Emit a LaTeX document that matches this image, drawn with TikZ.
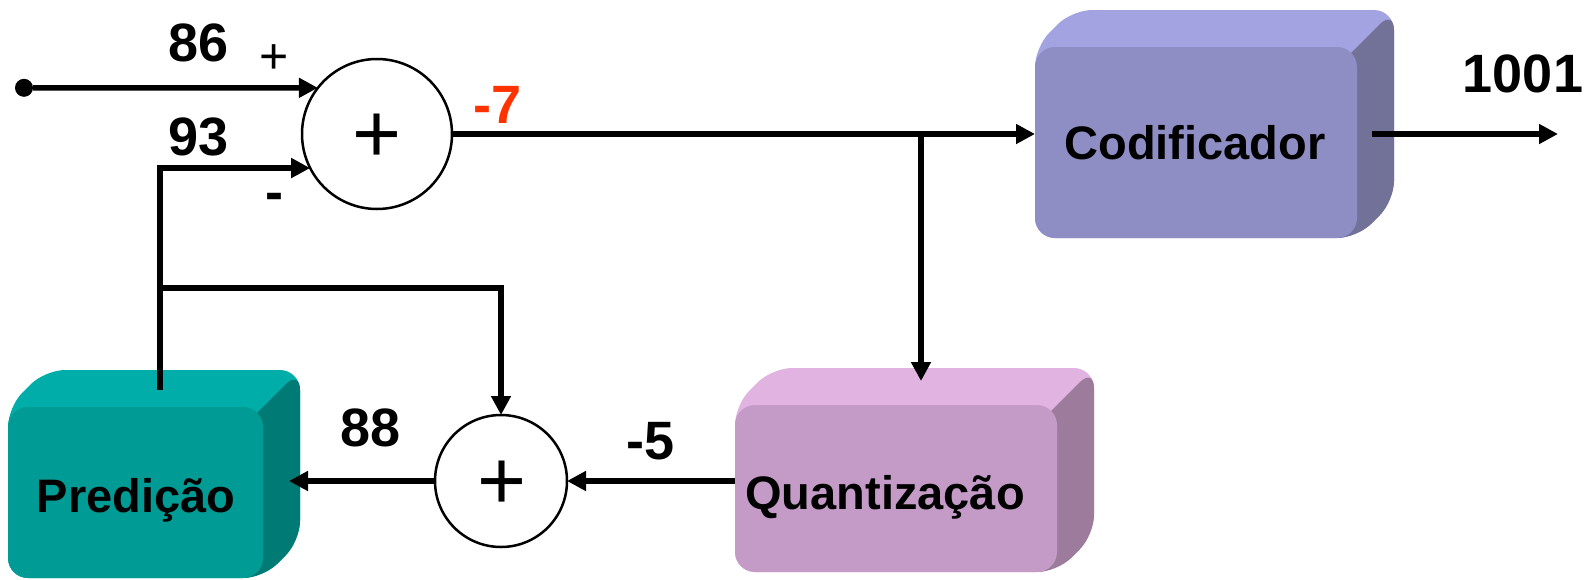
\documentclass[tikz,border=0pt]{standalone}
\usepackage{fontspec}
\setmainfont{Liberation Sans}
\usetikzlibrary{arrows.meta,calc}

\definecolor{codTop}{HTML}{A4A3E2}
\definecolor{codFront}{HTML}{8E8EC4}
\definecolor{codSide}{HTML}{727299}
\definecolor{preTop}{HTML}{00ADA8}
\definecolor{preFront}{HTML}{009B95}
\definecolor{preSide}{HTML}{007A74}
\definecolor{quaTop}{HTML}{E1B3E1}
\definecolor{quaFront}{HTML}{C49BC6}
\definecolor{quaSide}{HTML}{9C7B9C}
\definecolor{valred}{HTML}{FF3300}

% solid block: back hull and right side behind a rounded front face
% #1,#2 = front top-left, #3,#4 = front bottom-right, #5 top colour, #6 side colour
\newcommand\solidbox[6]{%
  \fill[#5, rounded corners=20pt] (#1,#4) -- (#1,#2) -- ({#1+37},{#2-37})
       -- ({#3+37},{#2-37}) -- ({#3+37},{#4-37}) -- (#3,#4) -- cycle;
  \fill[#6, rounded corners=20pt] ({#3-40},{#2+40}) -- ({#3+37},{#2-37})
       -- ({#3+37},{#4-37}) -- (#3,#4) -- ({#3-40},#4) -- cycle;
}

\tikzset{
  conn/.style={line width=5.5pt, -{Triangle[length=19pt,width=19pt]}},
  frontface/.style={rounded corners=20pt, inner sep=0pt, outer sep=0pt},
  sumnode/.style={circle, draw, line width=2.5pt, inner sep=0pt, outer sep=0pt},
  bigplus/.style={anchor=base, inner sep=0pt, font=\fontsize{84}{86}\selectfont},
  numlabel/.style={anchor=base, inner sep=0pt, font=\fontsize{54}{60}\selectfont\bfseries},
  signlabel/.style={anchor=base, inner sep=0pt, font=\fontsize{50}{56}\selectfont},
  boxlabel/.style={anchor=base, inner sep=0pt, font=\fontsize{47}{56}\selectfont\bfseries},
}

\begin{document}
\begin{tikzpicture}[x=1pt, y=-1pt]
\useasboundingbox (0,0) rectangle (1591,579);

% blocks
\solidbox{1035}{47}{1357}{238}{codTop}{codSide}
\node[frontface, fill=codFront, minimum width=322pt, minimum height=191pt] (cod) at (1196,142.5) {};
\solidbox{8}{407}{263}{578}{preTop}{preSide}
\node[frontface, fill=preFront, minimum width=255pt, minimum height=171pt] (pre) at (135.5,492.5) {};
\solidbox{735}{405}{1057}{572}{quaTop}{quaSide}
\node[frontface, fill=quaFront, minimum width=322pt, minimum height=167pt] (qua) at (896,488.5) {};

\node[boxlabel] (codtxt) at (1195,159) {Codificador};
\node[boxlabel] (pretxt) at (136,512) {Predição};
\node[boxlabel] (quatxt) at (885,509) {Quantização};

% summing junctions
\node[sumnode, minimum size=150pt] (c1) at (377,134) {};
\node[bigplus] (plus1) at (377,162.2) {+};
\node[sumnode, minimum size=132pt] (c2) at (501,481) {};
\node[bigplus] (plus2) at (502,509.7) {+};

% input terminal
\node[circle, fill, inner sep=0pt, minimum size=18pt] (in) at (24,87.8) {};

% connection points on the blocks
\coordinate (ptop) at (160,390);
\coordinate (pside) at (289,481);
\coordinate (fork) at (160,288);
\coordinate (qtop) at (921,381);
\coordinate (cside) at (1372,134);
\coordinate (out) at (1558,134);

% connectors
\draw[conn] (in) -- (c1.142);
\draw[conn] (ptop) |- (c1.207);
\draw[conn] (fork) -| (c2.north);
\draw[conn] (c1.east) -- (c1.east -| cod.west);
\draw[conn] (c1.east -| qtop) -- (qtop);
\draw[conn] (c2.east -| qua.west) -- (c2.east);
\draw[conn] (c2.west) -- (pside);
\draw[conn] (cside) -- (out);

% values and signs
\node[numlabel] (v86) at (199,61) {86};
\node[signlabel] (splus) at (274,73.5) {+};
\node[numlabel] (v93) at (199,155) {93};
\node[numlabel] (sminus) at (274,210) {-};
\node[numlabel, text=valred] (v7) at (498,123) {-7};
\node[numlabel] (v88) at (371,446) {88};
\node[numlabel] (v5) at (651,459) {-5};
\node[numlabel] (v1001) at (1523,92) {1001};
\end{tikzpicture}
\end{document}
